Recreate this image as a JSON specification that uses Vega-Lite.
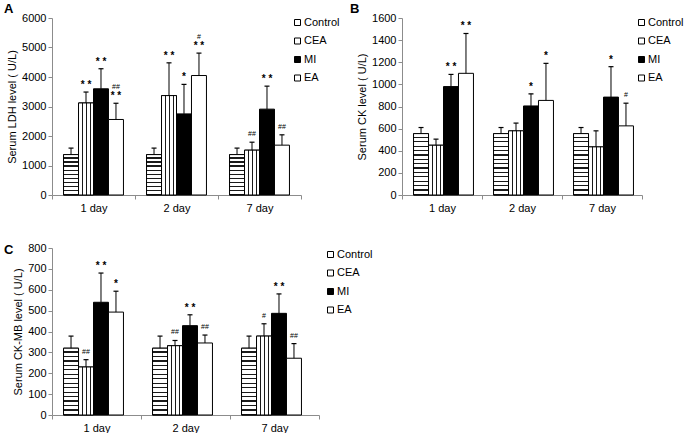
{
"$schema": "https://vega.github.io/schema/vega-lite/v6.json",
"background": "white",
"padding": {"left": 4, "top": 3, "right": 0, "bottom": 0},
"bounds": "flush",
"columns": 2,
"spacing": {"row": 53, "column": 83},
"datasets": {
"A": [
{"day":"1 day","group":"Control","value":1370,"hi":1590,"star":"","hash":""},
{"day":"1 day","group":"CEA","value":3120,"hi":3490,"star":"**","hash":""},
{"day":"1 day","group":"MI","value":3600,"hi":4280,"star":"**","hash":""},
{"day":"1 day","group":"EA","value":2560,"hi":3110,"star":"**","hash":"##"},
{"day":"2 day","group":"Control","value":1370,"hi":1590,"star":"","hash":""},
{"day":"2 day","group":"CEA","value":3370,"hi":4480,"star":"**","hash":""},
{"day":"2 day","group":"MI","value":2750,"hi":3750,"star":"*","hash":""},
{"day":"2 day","group":"EA","value":4050,"hi":4810,"star":"**","hash":"#"},
{"day":"7 day","group":"Control","value":1370,"hi":1590,"star":"","hash":""},
{"day":"7 day","group":"CEA","value":1520,"hi":1790,"star":"","hash":"##"},
{"day":"7 day","group":"MI","value":2910,"hi":3690,"star":"**","hash":""},
{"day":"7 day","group":"EA","value":1690,"hi":2040,"star":"","hash":"##"}
],
"B": [
{"day":"1 day","group":"Control","value":555,"hi":610,"star":"","hash":""},
{"day":"1 day","group":"CEA","value":450,"hi":505,"star":"","hash":""},
{"day":"1 day","group":"MI","value":980,"hi":1090,"star":"**","hash":""},
{"day":"1 day","group":"EA","value":1100,"hi":1460,"star":"**","hash":""},
{"day":"2 day","group":"Control","value":555,"hi":610,"star":"","hash":""},
{"day":"2 day","group":"CEA","value":580,"hi":650,"star":"","hash":""},
{"day":"2 day","group":"MI","value":805,"hi":915,"star":"*","hash":""},
{"day":"2 day","group":"EA","value":855,"hi":1190,"star":"*","hash":""},
{"day":"7 day","group":"Control","value":555,"hi":610,"star":"","hash":""},
{"day":"7 day","group":"CEA","value":435,"hi":580,"star":"","hash":""},
{"day":"7 day","group":"MI","value":885,"hi":1160,"star":"*","hash":""},
{"day":"7 day","group":"EA","value":625,"hi":830,"star":"","hash":"#"}
],
"C": [
{"day":"1 day","group":"Control","value":320,"hi":378,"star":"","hash":""},
{"day":"1 day","group":"CEA","value":230,"hi":265,"star":"","hash":"##"},
{"day":"1 day","group":"MI","value":540,"hi":680,"star":"**","hash":""},
{"day":"1 day","group":"EA","value":493,"hi":593,"star":"*","hash":""},
{"day":"2 day","group":"Control","value":320,"hi":378,"star":"","hash":""},
{"day":"2 day","group":"CEA","value":332,"hi":357,"star":"","hash":"##"},
{"day":"2 day","group":"MI","value":428,"hi":480,"star":"**","hash":""},
{"day":"2 day","group":"EA","value":345,"hi":383,"star":"","hash":"##"},
{"day":"7 day","group":"Control","value":320,"hi":378,"star":"","hash":""},
{"day":"7 day","group":"CEA","value":378,"hi":437,"star":"","hash":"#"},
{"day":"7 day","group":"MI","value":487,"hi":580,"star":"**","hash":""},
{"day":"7 day","group":"EA","value":272,"hi":342,"star":"","hash":"##"}
]
},
"resolve": {"scale": {"fill": "independent"}, "legend": {"fill": "independent"}},
"concat": [
{
"title": {"text": "A", "dx": -48, "dy": 8},
"width": 249, "height": 177,
"data": {"name": "A"},
"transform": [{"calculate": "replace(datum.star, '**', '* *')", "as": "starText"}],
"encoding": {
"x": {"field": "day", "type": "nominal", "sort": ["1 day","2 day","7 day"], "scale": {"paddingInner": 0, "paddingOuter": 0}, "axis": {"title": null, "labelAngle": 0, "tickBand": "extent"}},
"xOffset": {"field": "group", "type": "nominal", "sort": ["Control","CEA","MI","EA"], "scale": {"paddingInner": 0, "paddingOuter": 0.77}},
"y": {"field": "value", "type": "quantitative", "scale": {"domain": [0, 6000]}, "axis": {"title": "Serum LDH  level ( U/L)", "format": "d", "values": [0,1000,2000,3000,4000,5000,6000]}}
},
"layer": [
{"mark": {"type": "bar", "stroke": "#000", "strokeWidth": 1},
"encoding": {
"fill": {"field": "group", "type": "nominal", "sort": ["Control","CEA","MI","EA"],
"scale": {"domain": ["Control","CEA","MI","EA"], "range": ["#ffffff", "#ffffff", "#000000", "#ffffff"]},
"legend": {"orient": "none", "legendX": 240, "legendY": -1, "title": null,
"encode": {"symbols": {"update": {"stroke": {"value": "#000"}, "fill": [
{"test": "datum.value === 'Control'", "value": {"gradient":"linear","x1":0,"y1":0,"x2":0,"y2":1,"stops":[{"offset":0,"color":"#ffffff"},{"offset":0.42,"color":"#ffffff"},{"offset":0.42,"color":"#222222"},{"offset":0.6,"color":"#222222"},{"offset":0.6,"color":"#ffffff"},{"offset":1,"color":"#ffffff"}]}},
{"test": "datum.value === 'CEA'", "value": {"gradient":"linear","x1":0,"y1":0,"x2":1,"y2":0,"stops":[{"offset":0,"color":"#ffffff"},{"offset":0.3,"color":"#ffffff"},{"offset":0.3,"color":"#222222"},{"offset":0.45,"color":"#222222"},{"offset":0.45,"color":"#ffffff"},{"offset":0.6,"color":"#ffffff"},{"offset":0.6,"color":"#222222"},{"offset":0.75,"color":"#222222"},{"offset":0.75,"color":"#ffffff"},{"offset":1,"color":"#ffffff"}]}},
{"test": "datum.value === 'MI'", "value": "#000000"},
{"value": "#ffffff"}]}}}}}
}},
{"transform": [{"filter": "datum.group === 'Control'"}],
"mark": {"type": "bar", "stroke": "#000", "strokeWidth": 1, "fill": {"gradient":"linear","x1":0,"y1":0,"x2":0,"y2":1,"stops":[
{"offset":0,"color":"#ffffff"},{"offset":0.07,"color":"#ffffff"},{"offset":0.07,"color":"#1a1a1a"},{"offset":0.1,"color":"#1a1a1a"},
{"offset":0.1,"color":"#ffffff"},{"offset":0.17,"color":"#ffffff"},{"offset":0.17,"color":"#1a1a1a"},{"offset":0.2,"color":"#1a1a1a"},
{"offset":0.2,"color":"#ffffff"},{"offset":0.27,"color":"#ffffff"},{"offset":0.27,"color":"#1a1a1a"},{"offset":0.3,"color":"#1a1a1a"},
{"offset":0.3,"color":"#ffffff"},{"offset":0.37,"color":"#ffffff"},{"offset":0.37,"color":"#1a1a1a"},{"offset":0.4,"color":"#1a1a1a"},
{"offset":0.4,"color":"#ffffff"},{"offset":0.47,"color":"#ffffff"},{"offset":0.47,"color":"#1a1a1a"},{"offset":0.5,"color":"#1a1a1a"},
{"offset":0.5,"color":"#ffffff"},{"offset":0.57,"color":"#ffffff"},{"offset":0.57,"color":"#1a1a1a"},{"offset":0.6,"color":"#1a1a1a"},
{"offset":0.6,"color":"#ffffff"},{"offset":0.67,"color":"#ffffff"},{"offset":0.67,"color":"#1a1a1a"},{"offset":0.7,"color":"#1a1a1a"},
{"offset":0.7,"color":"#ffffff"},{"offset":0.77,"color":"#ffffff"},{"offset":0.77,"color":"#1a1a1a"},{"offset":0.8,"color":"#1a1a1a"},
{"offset":0.8,"color":"#ffffff"},{"offset":0.87,"color":"#ffffff"},{"offset":0.87,"color":"#1a1a1a"},{"offset":0.9,"color":"#1a1a1a"},
{"offset":0.9,"color":"#ffffff"},{"offset":0.97,"color":"#ffffff"},{"offset":0.97,"color":"#1a1a1a"},{"offset":1,"color":"#1a1a1a"}]}}},
{"transform": [{"filter": "datum.group === 'CEA'"}],
"mark": {"type": "bar", "stroke": "#000", "strokeWidth": 1, "fill": {"gradient":"linear","x1":0,"y1":0,"x2":1,"y2":0,"stops":[
{"offset":0,"color":"#ffffff"},{"offset":0.24,"color":"#ffffff"},{"offset":0.24,"color":"#1a1a1a"},{"offset":0.31,"color":"#1a1a1a"},
{"offset":0.31,"color":"#ffffff"},{"offset":0.49,"color":"#ffffff"},{"offset":0.49,"color":"#1a1a1a"},{"offset":0.56,"color":"#1a1a1a"},
{"offset":0.56,"color":"#ffffff"},{"offset":0.74,"color":"#ffffff"},{"offset":0.74,"color":"#1a1a1a"},{"offset":0.81,"color":"#1a1a1a"},
{"offset":0.81,"color":"#ffffff"},{"offset":1,"color":"#ffffff"}]}}},
{"mark": {"type": "rule", "color": "#000", "strokeWidth": 1},
"encoding": {"y2": {"field": "hi"}}},
{"mark": {"type": "tick", "orient": "horizontal", "size": 5, "thickness": 1.2, "color": "#000", "opacity": 1},
"encoding": {"y": {"field": "hi", "type": "quantitative", "axis": {"title": "Serum LDH  level ( U/L)", "format": "d", "values": [0,1000,2000,3000,4000,5000,6000]}}}},
{"transform": [{"filter": "datum.star != ''"}],
"mark": {"type": "text", "fontSize": 10, "fontWeight": "bold", "baseline": "alphabetic", "dy": -4, "color": "#000"},
"encoding": {"y": {"field": "hi", "type": "quantitative", "axis": {"title": "Serum LDH  level ( U/L)", "format": "d", "values": [0,1000,2000,3000,4000,5000,6000]}}, "text": {"field": "starText"}}},
{"transform": [{"filter": "datum.hash != '' && datum.star != ''"}],
"mark": {"type": "text", "fontSize": 7, "baseline": "alphabetic", "dy": -14, "color": "#000"},
"encoding": {"y": {"field": "hi", "type": "quantitative", "axis": {"title": "Serum LDH  level ( U/L)", "format": "d", "values": [0,1000,2000,3000,4000,5000,6000]}}, "text": {"field": "hash"}}},
{"transform": [{"filter": "datum.hash != '' && datum.star == ''"}],
"mark": {"type": "text", "fontSize": 7, "baseline": "alphabetic", "dy": -6, "color": "#000"},
"encoding": {"y": {"field": "hi", "type": "quantitative", "axis": {"title": "Serum LDH  level ( U/L)", "format": "d", "values": [0,1000,2000,3000,4000,5000,6000]}}, "text": {"field": "hash"}}}
]
},
{
"title": {"text": "B", "dx": -52, "dy": 8},
"width": 240, "height": 177,
"data": {"name": "B"},
"transform": [{"calculate": "replace(datum.star, '**', '* *')", "as": "starText"}],
"encoding": {
"x": {"field": "day", "type": "nominal", "sort": ["1 day","2 day","7 day"], "scale": {"paddingInner": 0, "paddingOuter": 0}, "axis": {"title": null, "labelAngle": 0, "tickBand": "extent"}},
"xOffset": {"field": "group", "type": "nominal", "sort": ["Control","CEA","MI","EA"], "scale": {"paddingInner": 0, "paddingOuter": 0.71}},
"y": {"field": "value", "type": "quantitative", "scale": {"domain": [0, 1600]}, "axis": {"title": "Serum CK  level ( U/L)", "format": "d", "values": [0,200,400,600,800,1000,1200,1400,1600]}}
},
"layer": [
{"mark": {"type": "bar", "stroke": "#000", "strokeWidth": 1},
"encoding": {
"fill": {"field": "group", "type": "nominal", "sort": ["Control","CEA","MI","EA"],
"scale": {"domain": ["Control","CEA","MI","EA"], "range": ["#ffffff", "#ffffff", "#000000", "#ffffff"]},
"legend": {"orient": "none", "legendX": 234, "legendY": -1, "title": null,
"encode": {"symbols": {"update": {"stroke": {"value": "#000"}, "fill": [
{"test": "datum.value === 'Control'", "value": {"gradient":"linear","x1":0,"y1":0,"x2":0,"y2":1,"stops":[{"offset":0,"color":"#ffffff"},{"offset":0.42,"color":"#ffffff"},{"offset":0.42,"color":"#222222"},{"offset":0.6,"color":"#222222"},{"offset":0.6,"color":"#ffffff"},{"offset":1,"color":"#ffffff"}]}},
{"test": "datum.value === 'CEA'", "value": {"gradient":"linear","x1":0,"y1":0,"x2":1,"y2":0,"stops":[{"offset":0,"color":"#ffffff"},{"offset":0.3,"color":"#ffffff"},{"offset":0.3,"color":"#222222"},{"offset":0.45,"color":"#222222"},{"offset":0.45,"color":"#ffffff"},{"offset":0.6,"color":"#ffffff"},{"offset":0.6,"color":"#222222"},{"offset":0.75,"color":"#222222"},{"offset":0.75,"color":"#ffffff"},{"offset":1,"color":"#ffffff"}]}},
{"test": "datum.value === 'MI'", "value": "#000000"},
{"value": "#ffffff"}]}}}}}
}},
{"transform": [{"filter": "datum.group === 'Control'"}],
"mark": {"type": "bar", "stroke": "#000", "strokeWidth": 1, "fill": {"gradient":"linear","x1":0,"y1":0,"x2":0,"y2":1,"stops":[
{"offset":0,"color":"#ffffff"},{"offset":0.0514,"color":"#ffffff"},{"offset":0.0514,"color":"#1a1a1a"},{"offset":0.0714,"color":"#1a1a1a"},
{"offset":0.0714,"color":"#ffffff"},{"offset":0.1229,"color":"#ffffff"},{"offset":0.1229,"color":"#1a1a1a"},{"offset":0.1429,"color":"#1a1a1a"},
{"offset":0.1429,"color":"#ffffff"},{"offset":0.1943,"color":"#ffffff"},{"offset":0.1943,"color":"#1a1a1a"},{"offset":0.2143,"color":"#1a1a1a"},
{"offset":0.2143,"color":"#ffffff"},{"offset":0.2657,"color":"#ffffff"},{"offset":0.2657,"color":"#1a1a1a"},{"offset":0.2857,"color":"#1a1a1a"},
{"offset":0.2857,"color":"#ffffff"},{"offset":0.3371,"color":"#ffffff"},{"offset":0.3371,"color":"#1a1a1a"},{"offset":0.3571,"color":"#1a1a1a"},
{"offset":0.3571,"color":"#ffffff"},{"offset":0.4086,"color":"#ffffff"},{"offset":0.4086,"color":"#1a1a1a"},{"offset":0.4286,"color":"#1a1a1a"},
{"offset":0.4286,"color":"#ffffff"},{"offset":0.48,"color":"#ffffff"},{"offset":0.48,"color":"#1a1a1a"},{"offset":0.5,"color":"#1a1a1a"},
{"offset":0.5,"color":"#ffffff"},{"offset":0.5514,"color":"#ffffff"},{"offset":0.5514,"color":"#1a1a1a"},{"offset":0.5714,"color":"#1a1a1a"},
{"offset":0.5714,"color":"#ffffff"},{"offset":0.6229,"color":"#ffffff"},{"offset":0.6229,"color":"#1a1a1a"},{"offset":0.6429,"color":"#1a1a1a"},
{"offset":0.6429,"color":"#ffffff"},{"offset":0.6943,"color":"#ffffff"},{"offset":0.6943,"color":"#1a1a1a"},{"offset":0.7143,"color":"#1a1a1a"},
{"offset":0.7143,"color":"#ffffff"},{"offset":0.7657,"color":"#ffffff"},{"offset":0.7657,"color":"#1a1a1a"},{"offset":0.7857,"color":"#1a1a1a"},
{"offset":0.7857,"color":"#ffffff"},{"offset":0.8371,"color":"#ffffff"},{"offset":0.8371,"color":"#1a1a1a"},{"offset":0.8571,"color":"#1a1a1a"},
{"offset":0.8571,"color":"#ffffff"},{"offset":0.9086,"color":"#ffffff"},{"offset":0.9086,"color":"#1a1a1a"},{"offset":0.9286,"color":"#1a1a1a"},
{"offset":0.9286,"color":"#ffffff"},{"offset":0.98,"color":"#ffffff"},{"offset":0.98,"color":"#1a1a1a"},{"offset":1,"color":"#1a1a1a"}]}}},
{"transform": [{"filter": "datum.group === 'CEA'"}],
"mark": {"type": "bar", "stroke": "#000", "strokeWidth": 1, "fill": {"gradient":"linear","x1":0,"y1":0,"x2":1,"y2":0,"stops":[
{"offset":0,"color":"#ffffff"},{"offset":0.24,"color":"#ffffff"},{"offset":0.24,"color":"#1a1a1a"},{"offset":0.31,"color":"#1a1a1a"},
{"offset":0.31,"color":"#ffffff"},{"offset":0.49,"color":"#ffffff"},{"offset":0.49,"color":"#1a1a1a"},{"offset":0.56,"color":"#1a1a1a"},
{"offset":0.56,"color":"#ffffff"},{"offset":0.74,"color":"#ffffff"},{"offset":0.74,"color":"#1a1a1a"},{"offset":0.81,"color":"#1a1a1a"},
{"offset":0.81,"color":"#ffffff"},{"offset":1,"color":"#ffffff"}]}}},
{"mark": {"type": "rule", "color": "#000", "strokeWidth": 1},
"encoding": {"y2": {"field": "hi"}}},
{"mark": {"type": "tick", "orient": "horizontal", "size": 5, "thickness": 1.2, "color": "#000", "opacity": 1},
"encoding": {"y": {"field": "hi", "type": "quantitative", "axis": {"title": "Serum CK  level ( U/L)", "format": "d", "values": [0,200,400,600,800,1000,1200,1400,1600]}}}},
{"transform": [{"filter": "datum.star != ''"}],
"mark": {"type": "text", "fontSize": 10, "fontWeight": "bold", "baseline": "alphabetic", "dy": -4, "color": "#000"},
"encoding": {"y": {"field": "hi", "type": "quantitative", "axis": {"title": "Serum CK  level ( U/L)", "format": "d", "values": [0,200,400,600,800,1000,1200,1400,1600]}}, "text": {"field": "starText"}}},
{"transform": [{"filter": "datum.hash != '' && datum.star == ''"}],
"mark": {"type": "text", "fontSize": 7, "baseline": "alphabetic", "dy": -6, "color": "#000"},
"encoding": {"y": {"field": "hi", "type": "quantitative", "axis": {"title": "Serum CK  level ( U/L)", "format": "d", "values": [0,200,400,600,800,1000,1200,1400,1600]}}, "text": {"field": "hash"}}}
]
},
{
"title": {"text": "C", "dx": -48, "dy": 19},
"width": 267, "height": 167,
"data": {"name": "C"},
"transform": [{"calculate": "replace(datum.star, '**', '* *')", "as": "starText"}],
"encoding": {
"x": {"field": "day", "type": "nominal", "sort": ["1 day","2 day","7 day"], "scale": {"paddingInner": 0, "paddingOuter": 0}, "axis": {"title": null, "labelAngle": 0, "tickBand": "extent"}},
"xOffset": {"field": "group", "type": "nominal", "sort": ["Control","CEA","MI","EA"], "scale": {"paddingInner": 0, "paddingOuter": 0.78}},
"y": {"field": "value", "type": "quantitative", "scale": {"domain": [0, 800]}, "axis": {"title": "Serum CK-MB  level ( U/L)", "format": "d", "values": [0,100,200,300,400,500,600,700,800]}}
},
"layer": [
{"mark": {"type": "bar", "stroke": "#000", "strokeWidth": 1},
"encoding": {
"fill": {"field": "group", "type": "nominal", "sort": ["Control","CEA","MI","EA"],
"scale": {"domain": ["Control","CEA","MI","EA"], "range": ["#ffffff", "#ffffff", "#000000", "#ffffff"]},
"legend": {"orient": "none", "legendX": 273, "legendY": 1, "title": null,
"encode": {"symbols": {"update": {"stroke": {"value": "#000"}, "fill": [
{"test": "datum.value === 'Control'", "value": {"gradient":"linear","x1":0,"y1":0,"x2":0,"y2":1,"stops":[{"offset":0,"color":"#ffffff"},{"offset":0.42,"color":"#ffffff"},{"offset":0.42,"color":"#222222"},{"offset":0.6,"color":"#222222"},{"offset":0.6,"color":"#ffffff"},{"offset":1,"color":"#ffffff"}]}},
{"test": "datum.value === 'CEA'", "value": {"gradient":"linear","x1":0,"y1":0,"x2":1,"y2":0,"stops":[{"offset":0,"color":"#ffffff"},{"offset":0.3,"color":"#ffffff"},{"offset":0.3,"color":"#222222"},{"offset":0.45,"color":"#222222"},{"offset":0.45,"color":"#ffffff"},{"offset":0.6,"color":"#ffffff"},{"offset":0.6,"color":"#222222"},{"offset":0.75,"color":"#222222"},{"offset":0.75,"color":"#ffffff"},{"offset":1,"color":"#ffffff"}]}},
{"test": "datum.value === 'MI'", "value": "#000000"},
{"value": "#ffffff"}]}}}}}
}},
{"transform": [{"filter": "datum.group === 'Control'"}],
"mark": {"type": "bar", "stroke": "#000", "strokeWidth": 1, "fill": {"gradient":"linear","x1":0,"y1":0,"x2":0,"y2":1,"stops":[
{"offset":0,"color":"#ffffff"},{"offset":0.0487,"color":"#ffffff"},{"offset":0.0487,"color":"#1a1a1a"},{"offset":0.0667,"color":"#1a1a1a"},
{"offset":0.0667,"color":"#ffffff"},{"offset":0.1153,"color":"#ffffff"},{"offset":0.1153,"color":"#1a1a1a"},{"offset":0.1333,"color":"#1a1a1a"},
{"offset":0.1333,"color":"#ffffff"},{"offset":0.182,"color":"#ffffff"},{"offset":0.182,"color":"#1a1a1a"},{"offset":0.2,"color":"#1a1a1a"},
{"offset":0.2,"color":"#ffffff"},{"offset":0.2487,"color":"#ffffff"},{"offset":0.2487,"color":"#1a1a1a"},{"offset":0.2667,"color":"#1a1a1a"},
{"offset":0.2667,"color":"#ffffff"},{"offset":0.3153,"color":"#ffffff"},{"offset":0.3153,"color":"#1a1a1a"},{"offset":0.3333,"color":"#1a1a1a"},
{"offset":0.3333,"color":"#ffffff"},{"offset":0.382,"color":"#ffffff"},{"offset":0.382,"color":"#1a1a1a"},{"offset":0.4,"color":"#1a1a1a"},
{"offset":0.4,"color":"#ffffff"},{"offset":0.4487,"color":"#ffffff"},{"offset":0.4487,"color":"#1a1a1a"},{"offset":0.4667,"color":"#1a1a1a"},
{"offset":0.4667,"color":"#ffffff"},{"offset":0.5153,"color":"#ffffff"},{"offset":0.5153,"color":"#1a1a1a"},{"offset":0.5333,"color":"#1a1a1a"},
{"offset":0.5333,"color":"#ffffff"},{"offset":0.582,"color":"#ffffff"},{"offset":0.582,"color":"#1a1a1a"},{"offset":0.6,"color":"#1a1a1a"},
{"offset":0.6,"color":"#ffffff"},{"offset":0.6487,"color":"#ffffff"},{"offset":0.6487,"color":"#1a1a1a"},{"offset":0.6667,"color":"#1a1a1a"},
{"offset":0.6667,"color":"#ffffff"},{"offset":0.7153,"color":"#ffffff"},{"offset":0.7153,"color":"#1a1a1a"},{"offset":0.7333,"color":"#1a1a1a"},
{"offset":0.7333,"color":"#ffffff"},{"offset":0.782,"color":"#ffffff"},{"offset":0.782,"color":"#1a1a1a"},{"offset":0.8,"color":"#1a1a1a"},
{"offset":0.8,"color":"#ffffff"},{"offset":0.8487,"color":"#ffffff"},{"offset":0.8487,"color":"#1a1a1a"},{"offset":0.8667,"color":"#1a1a1a"},
{"offset":0.8667,"color":"#ffffff"},{"offset":0.9153,"color":"#ffffff"},{"offset":0.9153,"color":"#1a1a1a"},{"offset":0.9333,"color":"#1a1a1a"},
{"offset":0.9333,"color":"#ffffff"},{"offset":0.982,"color":"#ffffff"},{"offset":0.982,"color":"#1a1a1a"},{"offset":1,"color":"#1a1a1a"}]}}},
{"transform": [{"filter": "datum.group === 'CEA'"}],
"mark": {"type": "bar", "stroke": "#000", "strokeWidth": 1, "fill": {"gradient":"linear","x1":0,"y1":0,"x2":1,"y2":0,"stops":[
{"offset":0,"color":"#ffffff"},{"offset":0.24,"color":"#ffffff"},{"offset":0.24,"color":"#1a1a1a"},{"offset":0.31,"color":"#1a1a1a"},
{"offset":0.31,"color":"#ffffff"},{"offset":0.49,"color":"#ffffff"},{"offset":0.49,"color":"#1a1a1a"},{"offset":0.56,"color":"#1a1a1a"},
{"offset":0.56,"color":"#ffffff"},{"offset":0.74,"color":"#ffffff"},{"offset":0.74,"color":"#1a1a1a"},{"offset":0.81,"color":"#1a1a1a"},
{"offset":0.81,"color":"#ffffff"},{"offset":1,"color":"#ffffff"}]}}},
{"mark": {"type": "rule", "color": "#000", "strokeWidth": 1},
"encoding": {"y2": {"field": "hi"}}},
{"mark": {"type": "tick", "orient": "horizontal", "size": 5, "thickness": 1.2, "color": "#000", "opacity": 1},
"encoding": {"y": {"field": "hi", "type": "quantitative", "axis": {"title": "Serum CK-MB  level ( U/L)", "format": "d", "values": [0,100,200,300,400,500,600,700,800]}}}},
{"transform": [{"filter": "datum.star != ''"}],
"mark": {"type": "text", "fontSize": 10, "fontWeight": "bold", "baseline": "alphabetic", "dy": -4, "color": "#000"},
"encoding": {"y": {"field": "hi", "type": "quantitative", "axis": {"title": "Serum CK-MB  level ( U/L)", "format": "d", "values": [0,100,200,300,400,500,600,700,800]}}, "text": {"field": "starText"}}},
{"transform": [{"filter": "datum.hash != '' && datum.star == ''"}],
"mark": {"type": "text", "fontSize": 7, "baseline": "alphabetic", "dy": -6, "color": "#000"},
"encoding": {"y": {"field": "hi", "type": "quantitative", "axis": {"title": "Serum CK-MB  level ( U/L)", "format": "d", "values": [0,100,200,300,400,500,600,700,800]}}, "text": {"field": "hash"}}}
]
}
],
"config": {
"view": {"stroke": null},
"font": "Liberation Sans",
"axis": {"domainColor": "#8c8c8c", "tickColor": "#8c8c8c", "tickSize": 4, "labelFont": "Liberation Sans", "labelFontSize": 11, "labelColor": "#000", "titleFont": "Liberation Sans", "titleFontSize": 11, "titleFontWeight": "normal", "titleColor": "#000", "grid": false},
"axisX": {"labelPadding": 3},
"axisY": {"labelPadding": 2, "titlePadding": 4},
"legend": {"symbolType": "square", "symbolSize": 36, "symbolStrokeColor": "#000", "symbolStrokeWidth": 1, "labelFont": "Liberation Sans", "labelFontSize": 11, "labelColor": "#000", "rowPadding": 6.5, "labelOffset": 1, "padding": 0},
"title": {"fontSize": 13, "fontWeight": "bold", "font": "Liberation Sans", "anchor": "start", "frame": "group", "offset": 0, "color": "#000"}
}
}
